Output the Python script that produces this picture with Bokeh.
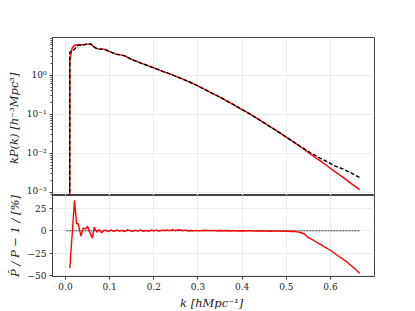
from bokeh.plotting import figure
from bokeh.layouts import column
from bokeh.models import (Range1d, FixedTicker, LogTicker, CustomJSTickFormatter)
from bokeh.embed import file_html
from bokeh.resources import INLINE

# ---- data ----
k_top = [0.0096, 0.0098, 0.015, 0.0204, 0.025, 0.030, 0.0385, 0.046, 0.057, 0.061,
         0.065, 0.070, 0.076, 0.087, 0.093, 0.099, 0.114, 0.133, 0.152, 0.174,
         0.197, 0.220, 0.238, 0.260, 0.283, 0.305, 0.328, 0.350, 0.374, 0.395,
         0.415, 0.441, 0.465, 0.487, 0.510, 0.532, 0.555, 0.575, 0.592, 0.610,
         0.630, 0.648, 0.666]
kP_true = [1e-5, 3.9, 4.3, 4.6, 5.6, 5.9, 6.1, 6.2, 6.4, 6.0,
           5.3, 4.9, 4.7, 4.7, 4.4, 4.1, 3.5, 3.2, 2.5, 2.0,
           1.6, 1.27, 1.07, 0.845, 0.66, 0.50, 0.368, 0.275, 0.195, 0.143,
           0.106, 0.070, 0.047, 0.0327, 0.0219, 0.0150, 0.0103, 0.0077, 0.0061, 0.00476,
           0.0039, 0.0031, 0.0024]
kP_est = [1e-5, 2.3, 5.0, 5.9, 6.0, 6.1, 6.1, 6.3, 6.3, 5.7,
          5.4, 4.9, 4.7, 4.7, 4.4, 4.1, 3.5, 3.2, 2.5, 2.0,
          1.6, 1.27, 1.07, 0.845, 0.66, 0.50, 0.368, 0.275, 0.195, 0.143,
          0.106, 0.070, 0.047, 0.0326, 0.0218, 0.0148, 0.0096, 0.0066, 0.0048, 0.0034,
          0.00235, 0.00165, 0.00118]

k_ratio = [0.0098, 0.0204, 0.025, 0.029, 0.035, 0.040, 0.046, 0.050, 0.055, 0.061,
           0.065, 0.071, 0.076, 0.082, 0.087, 0.091, 0.097, 0.103, 0.110, 0.116,
           0.122, 0.128, 0.134, 0.140, 0.146, 0.152, 0.158, 0.164, 0.170, 0.176,
           0.182, 0.188, 0.194, 0.200, 0.206, 0.212, 0.218, 0.224, 0.230, 0.236,
           0.242, 0.248, 0.254, 0.260, 0.266, 0.272, 0.278, 0.284, 0.290, 0.296,
           0.302, 0.310, 0.318, 0.326, 0.334, 0.342, 0.350, 0.358, 0.366, 0.374,
           0.382, 0.390, 0.398, 0.406, 0.414, 0.422, 0.430, 0.438, 0.446, 0.454,
           0.462, 0.470, 0.478, 0.486, 0.494, 0.502, 0.510, 0.517, 0.525, 0.532,
           0.540, 0.548, 0.562, 0.580, 0.600, 0.620, 0.638, 0.652, 0.666]
ratio_pct = [-41.7, 33.9, 7.8, 7.8, -6.0, 3.0, 2.2, 5.2, -1.5, -8.2,
             4.0, -1.5, 1.1, -2.2, 0.3, 0.7, -0.8, 1.1, -0.7, 0.9,
             -0.4, 0.6, -0.9, 1.2, 0.2, -0.6, 0.8, -0.3, 1.0, -0.5,
             0.4, -0.7, 0.9, 0.1, 0.7, -0.4, 0.8, 0.3, 1.0, 0.2,
             1.3, 0.4, 0.9, 1.1, 0.3, 0.7, -0.2, 0.4, 0.0, 0.5,
             -0.1, 0.3, 0.6, 0.2, 0.5, 0.1, 0.4, 0.0, 0.3, -0.2,
             0.2, -0.3, 0.1, -0.2, 0.2, -0.1, -0.4, 0.0, -0.3, -0.1,
             -0.5, -0.2, -0.4, -0.3, -0.6, -0.4, -0.8, -0.7, -1.2, -1.9,
             -3.3, -7.0, -10.8, -16.0, -22.0, -29.0, -35.0, -41.0, -47.3]

zero_k = [0.002, 0.666]
zero_v = [0.0, 0.0]

x_ticks = [0.0, 0.1, 0.2, 0.3, 0.4, 0.5, 0.6]
ratio_ticks = [-50, -25, 0, 25]

SERIF = "DejaVu Serif"
FRAME = "#444444"
GRID = "#ececec"

x_range = Range1d(-0.0294, 0.6996)

# ---- top panel ----
top = figure(output_backend="svg", toolbar_location=None, y_axis_type="log",
             x_range=x_range, y_range=Range1d(10 ** -3.08, 10 ** 0.97),
             frame_width=322, frame_height=158,
             min_border_left=52, min_border_right=24, min_border_top=37, min_border_bottom=0)
top.xaxis.visible = False
top.xgrid[0].ticker = FixedTicker(ticks=x_ticks)
top.xgrid.grid_line_color = GRID
top.ygrid.grid_line_color = GRID
top.outline_line_color = FRAME
top.outline_line_width = 1

top.yaxis.ticker = LogTicker(num_minor_ticks=10)
top.yaxis.formatter = CustomJSTickFormatter(code="""
const e = Math.round(Math.log10(tick));
const sup = {'-':'\u207b','0':'\u2070','1':'\u00b9','2':'\u00b2','3':'\u00b3','4':'\u2074','5':'\u2075','6':'\u2076','7':'\u2077','8':'\u2078','9':'\u2079'};
return '10' + String(e).split('').map(c => sup[c]).join('');
""")
top.yaxis.axis_label = "kP(k)  [h\u207b\u00b3Mpc\u00b3]"

top.line(k_top, kP_est, line_color="red", line_width=1.4)
top.line(k_top, kP_true, line_color="black", line_width=1.4, line_dash="4 2")

# ---- bottom panel ----
bot = figure(output_backend="svg", toolbar_location=None,
             x_range=x_range, y_range=Range1d(-51, 39.4),
             frame_width=322, frame_height=81,
             min_border_left=52, min_border_right=24, min_border_top=0, min_border_bottom=34)
bot.xaxis.ticker = FixedTicker(ticks=x_ticks)
bot.yaxis.ticker = FixedTicker(ticks=ratio_ticks)
bot.xaxis.formatter = CustomJSTickFormatter(code="return tick.toFixed(1);")
bot.yaxis.formatter = CustomJSTickFormatter(code="return String(Math.round(tick)).replace('-', '\u2212');")
bot.xgrid.grid_line_color = GRID
bot.ygrid.grid_line_color = GRID
bot.outline_line_color = FRAME
bot.outline_line_width = 1
bot.xaxis.axis_label = "k  [hMpc\u207b\u00b9]"
bot.yaxis.axis_label = "P\u0302 / P \u2212 1 / [%]"

bot.line(zero_k, zero_v, line_color="black", line_width=0.8, line_dash="2 1")
bot.line(k_ratio, ratio_pct, line_color="red", line_width=1.4)

for p in (top, bot):
    for ax in p.axis:
        ax.axis_line_color = FRAME
        ax.major_tick_line_color = FRAME
        ax.minor_tick_line_color = FRAME
        ax.major_tick_out = 3
        ax.major_tick_in = 0
        ax.minor_tick_in = 0
        ax.minor_tick_out = 2
        ax.major_label_text_font = SERIF
        ax.major_label_text_font_size = "9px"
        ax.major_label_text_color = "#222222"
        ax.major_label_standoff = 3
        ax.axis_label_text_font = SERIF
        ax.axis_label_text_font_style = "italic"
        ax.axis_label_text_font_size = "11.5px"
        ax.axis_label_text_color = "#222222"
        ax.axis_label_standoff = 3

for ax in bot.axis:
    ax.minor_tick_out = 0
    ax.minor_tick_line_color = None

layout = column(top, bot, spacing=0)
open("out.html", "w").write(file_html(layout, INLINE))
